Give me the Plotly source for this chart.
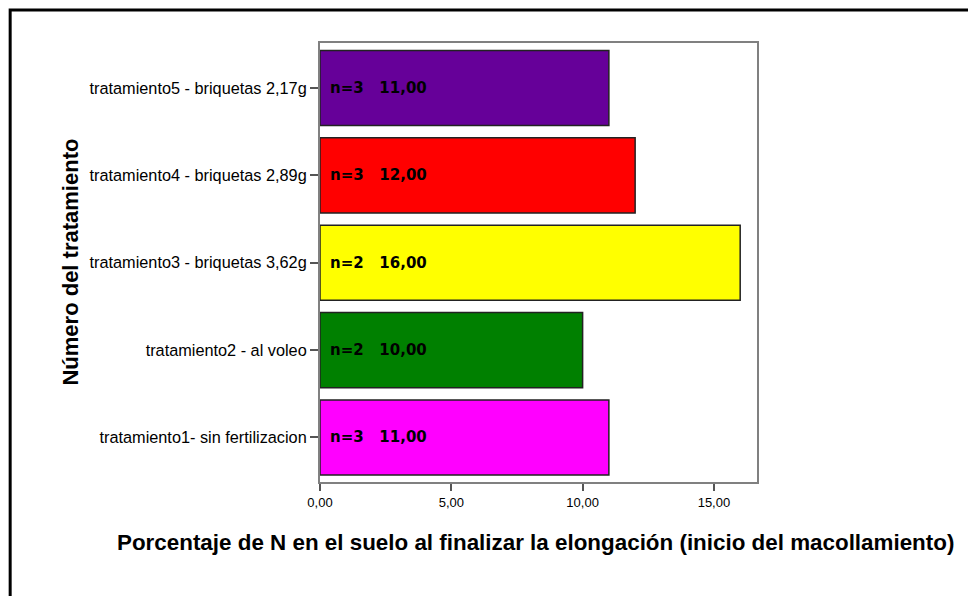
import plotly.graph_objects as go

categories = ["tratamiento1- sin fertilizacion", "tratamiento2 - al voleo",
              "tratamiento3 - briquetas 3,62g", "tratamiento4 - briquetas 2,89g",
              "tratamiento5 - briquetas 2,17g"]
values = [11.0, 10.0, 16.0, 12.0, 11.0]
counts = [3, 2, 2, 3, 3]
colors = ["#FF00FF", "#008000", "#FFFF00", "#FF0000", "#660099"]
xtick_vals = [0, 5, 10, 15]
xtick_text = ["0,00", "5,00", "10,00", "15,00"]

fig = go.Figure()
fig.add_trace(go.Bar(
    y=categories, x=values, orientation="h",
    marker=dict(color=colors, line=dict(color="#222222", width=1.5)),
    width=0.86, hoverinfo="skip"))

for c, v, n in zip(categories, values, counts):
    fig.add_annotation(x=0, y=c, xref="x", yref="y", xanchor="left", xshift=8,
                       text="<b>n=%d   %s</b>" % (n, ("%.2f" % v).replace(".", ",")),
                       showarrow=False, font=dict(family="DejaVu Sans", size=15, color="black"))

fig.add_annotation(x=-0.572, y=0.5, xref="paper", yref="paper", textangle=-90,
                   xanchor="center", yanchor="middle",
                   text="<b>Número del tratamiento</b>", showarrow=False,
                   font=dict(family="Arial", size=22, color="black"))
fig.add_annotation(x=0.492, y=-0.137, xref="paper", yref="paper", yanchor="middle",
                   xanchor="center",
                   text="<b>Porcentaje de N en el suelo al finalizar la elongación (inicio del macollamiento)</b>",
                   showarrow=False, font=dict(family="Arial", size=22.4, color="black"))

fig.add_shape(type="rect", xref="paper", yref="paper", x0=-0.709, x1=1.6, y0=-0.4, y1=1.075,
              line=dict(color="black", width=3), fillcolor="rgba(0,0,0,0)", layer="above")

fig.update_layout(
    width=976, height=596,
    margin=dict(l=312, r=227, t=35, b=122),
    paper_bgcolor="white", plot_bgcolor="white",
    showlegend=False,
    font=dict(family="Arial", color="black"),
    xaxis=dict(range=[0, 16.64], tickvals=xtick_vals, ticktext=xtick_text,
               ticks="outside", ticklen=7, tickwidth=2, tickcolor="#555555",
               showline=True, linecolor="#808080", linewidth=2, mirror=True,
               showgrid=False, zeroline=False, tickfont=dict(size=13, color="black")),
    yaxis=dict(range=[-0.51, 4.515], categoryorder="array", categoryarray=categories,
               ticks="outside", ticklen=8, tickwidth=2, tickcolor="#555555",
               showline=True, linecolor="#808080", linewidth=2, mirror=True,
               showgrid=False, zeroline=False, tickfont=dict(size=16.3, color="black")),
)

fig.write_html("out.html")
